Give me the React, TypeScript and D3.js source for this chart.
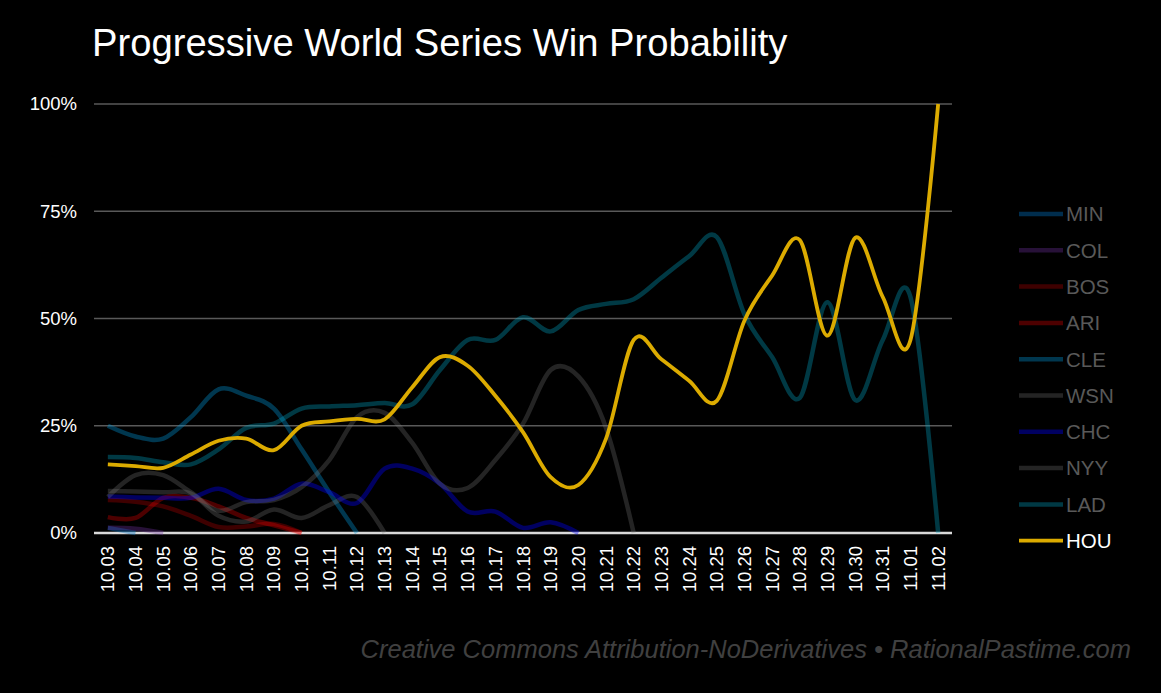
import React, { useEffect } from 'react';
import * as d3 from 'd3';

// dates on the x axis
const dates = [
  '10.03', '10.04', '10.05', '10.06', '10.07', '10.08', '10.09', '10.10', '10.11', '10.12',
  '10.13', '10.14', '10.15', '10.16', '10.17', '10.18', '10.19', '10.20', '10.21', '10.22',
  '10.23', '10.24', '10.25', '10.26', '10.27', '10.28', '10.29', '10.30', '10.31', '11.01', '11.02',
];

// win probability (%) per team, starting at 10.03; the series stops once a team is out
const minValues = [1.2, 0];
const colValues = [1.2, 1, 0];
const bosValues = [7.7, 7.3, 6.2, 4, 1.4, 1.5, 2.1, 0];
const ariValues = [3.7, 3.5, 8.2, 8.2, 6.2, 3.5, 1.8, 0];
const cleValues = [25, 22.5, 22, 27, 33.5, 32, 29, 19.5, 9.5, 0];
const wsnValues = [9.8, 9.7, 9.5, 9.2, 4, 2.7, 5.5, 3.5, 6.5, 8.4, 0];
const chcValues = [8.5, 8.3, 8.2, 8.2, 10.3, 7.7, 8, 11.5, 9.5, 7, 15, 15, 11.5, 5, 5, 1.2, 2.5, 0];
const nyyValues = [8.4, 13.5, 13.5, 9.5, 5.2, 7.2, 7.7, 10.7, 17, 27, 28, 21, 11.5, 10.5, 17, 25.5, 38, 36.5, 24.5, 0];
const ladValues = [
  17.7, 17.5, 16.5, 16, 19.5, 24.5, 25.5, 29, 29.5, 29.8, 30.3, 30, 38, 45, 45, 50.3,
  47, 52, 53.4, 54.5, 59.5, 64.5, 69, 51, 41, 31.5, 53.8, 31, 45, 55, 0,
];
const houValues = [
  16, 15.6, 15.2, 18.3, 21.5, 22, 19.3, 25, 26, 26.6, 26.5, 34, 41, 39, 32, 23.5,
  13, 11.2, 22, 45, 40.5, 35.5, 30.8, 49.5, 60, 68.3, 46, 68.8, 55, 45, 100,
];

const yTicks = [0, 25, 50, 75, 100];

const series = [
  { name: 'MIN', values: minValues, color: '#0070c0', opacity: 0.4 },
  { name: 'COL', values: colValues, color: '#7030a0', opacity: 0.35 },
  { name: 'BOS', values: bosValues, color: '#c00000', opacity: 0.32 },
  { name: 'ARI', values: ariValues, color: '#ff0000', opacity: 0.3 },
  { name: 'CLE', values: cleValues, color: '#0098dc', opacity: 0.36 },
  { name: 'WSN', values: wsnValues, color: '#808080', opacity: 0.28 },
  { name: 'CHC', values: chcValues, color: '#0000ff', opacity: 0.38 },
  { name: 'NYY', values: nyyValues, color: '#808080', opacity: 0.28 },
  { name: 'LAD', values: ladValues, color: '#00a8c8', opacity: 0.34 },
  { name: 'HOU', values: houValues, color: '#dcab00', opacity: 1 },
];

const W = 1161;
const H = 693;
const FONT = 'Liberation Sans, Arial, sans-serif';

export default function App() {
  useEffect(() => {
    document.body.style.margin = '0';
    document.body.style.background = '#000';
  }, []);

  const x = d3.scalePoint<string>().domain(dates).range([94, 952]).padding(0.5);
  const y = d3.scaleLinear().domain([0, 100]).range([533, 104]);

  // Excel-style smoothed line
  const line = d3
    .line<number>()
    .x((_, i) => x(dates[i]) as number)
    .y((d) => y(d))
    .curve(d3.curveCatmullRom.alpha(0));

  const legendY = d3.scalePoint<string>().domain(series.map((s) => s.name)).range([214, 540.7]);

  return (
    <svg width={W} height={H} style={{ display: 'block', background: '#000' }} fontFamily={FONT}>
      <text x={92} y={56} fill="#fff" fontSize={38.2}>
        Progressive World Series Win Probability
      </text>

      {yTicks.map((t) => (
        <g key={t}>
          {t > 0 && <line x1={94} x2={952} y1={y(t)} y2={y(t)} stroke="#595959" strokeWidth={1.5} />}
          <text x={77} y={y(t)} dy="0.35em" textAnchor="end" fill="#fff" fontSize={18.5}>
            {t}%
          </text>
        </g>
      ))}
      <line x1={94} x2={952} y1={y(0)} y2={y(0)} stroke="#d9d9d9" strokeWidth={2.5} />

      {dates.map((d) => (
        <text
          key={d}
          transform={`translate(${(x(d) as number) + 6.5},546) rotate(-90)`}
          textAnchor="end"
          fill="#fff"
          fontSize={18.5}
        >
          {d}
        </text>
      ))}

      {series.map((s) => (
        <path
          key={s.name}
          d={line(s.values) || ''}
          fill="none"
          stroke={s.color}
          strokeOpacity={s.opacity}
          strokeWidth={s.name === 'HOU' ? 3.8 : 4.5}
          strokeLinejoin="round"
        />
      ))}

      {series.map((s) => (
        <g key={s.name} transform={`translate(0,${legendY(s.name)})`}>
          <line
            x1={1019}
            x2={1063}
            stroke={s.color}
            strokeOpacity={s.opacity}
            strokeWidth={s.name === 'HOU' ? 3.8 : 4.5}
          />
          <text x={1066} dy="0.36em" fill={s.name === 'HOU' ? '#fff' : '#595959'} fontSize={20.5}>
            {s.name}
          </text>
        </g>
      ))}

      <text x={1131} y={658} textAnchor="end" fill="#404040" fontSize={25.5} fontStyle="italic">
        Creative Commons Attribution-NoDerivatives • RationalPastime.com
      </text>
    </svg>
  );
}
